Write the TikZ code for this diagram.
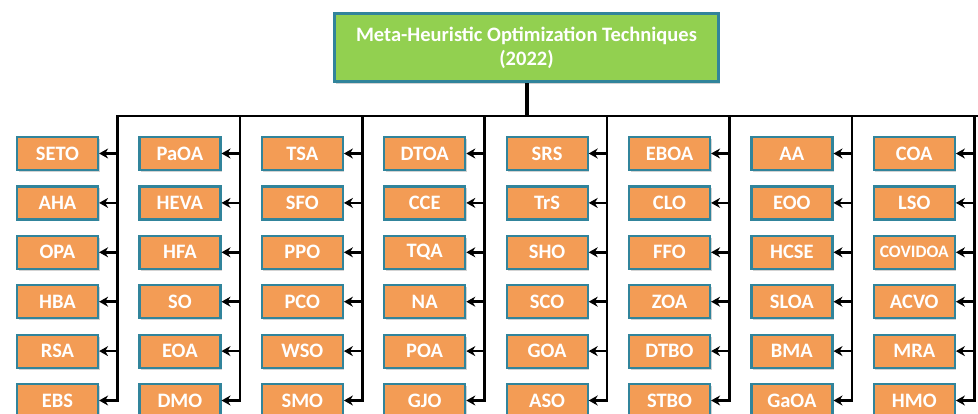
\documentclass[tikz,border=0pt]{standalone}
\usepackage{fontspec}
\setmainfont{Carlito}
\usetikzlibrary{arrows.meta,shadows}
\definecolor{boxfill}{HTML}{F39C55}
\definecolor{boxedge}{HTML}{31849B}
\definecolor{titlefill}{HTML}{92D050}
\newcommand\covtxt{{\fontsize{17.5}{19}\selectfont COVIDOA}}
\tikzset{
  box/.style={draw=boxedge, line width=2.2pt, fill=boxfill, minimum width=81pt, minimum height=33pt,
    inner sep=0pt, text=white, font=\fontsize{20.5}{23}\selectfont\bfseries,
    drop shadow={opacity=0.35, shadow xshift=1.5pt, shadow yshift=-2pt}},
  titlebox/.style={draw=boxedge, line width=3pt, fill=titlefill, minimum width=384pt, minimum height=68pt,
    inner sep=0pt, text=white, align=center, font=\fontsize{20.5}{24}\selectfont\bfseries,
    drop shadow={opacity=0.35, shadow xshift=1.5pt, shadow yshift=-2pt}},
  conn/.style={draw=black, line width=2.5pt},
  arr/.style={draw=black, line width=2.5pt, -{Stealth[length=9pt,width=10pt]}}
}
\begin{document}
\begin{tikzpicture}[x=1pt,y=-1pt]
\useasboundingbox (0,0) rectangle (978,413);
\clip (0,0) rectangle (978,413);
\node[titlebox] (title) at (526.5,47.5) {Meta-Heuristic Optimization Techniques\\(2022)};
\coordinate (busL) at (117.5,116);
\coordinate (busR) at (990,116);
\draw[conn] (busL) -- (busR);
\draw[conn, line width=4pt] (title.south) -- (title.south |- busL);
\foreach \i/\labs in {
  0/{SETO,AHA,OPA,HBA,RSA,EBS},
  1/{PaOA,HEVA,HFA,SO,EOA,DMO},
  2/{TSA,SFO,PPO,PCO,WSO,SMO},
  3/{DTOA,CCE,TQA,NA,POA,GJO},
  4/{SRS,TrS,SHO,SCO,GOA,ASO},
  5/{EBOA,CLO,FFO,ZOA,DTBO,STBO},
  6/{AA,EOO,HCSE,SLOA,BMA,GaOA},
  7/{COA,LSO,\covtxt,ACVO,MRA,HMO}} {
  \coordinate (top\i) at (117.5+122.4*\i,116);
  \foreach \t [count=\j from 0] in \labs {
    \node[box] (b\i-\j) at (57.5+122.4*\i,153.5+49.4*\j) {\t};
    \coordinate (a\i-\j) at (117.5+122.4*\i,153.5+49.4*\j);
    \draw[arr] (a\i-\j) -- (b\i-\j.east);
  }
  \draw[conn, line cap=rect] (top\i) -- (a\i-5);
}
\end{tikzpicture}
\end{document}
